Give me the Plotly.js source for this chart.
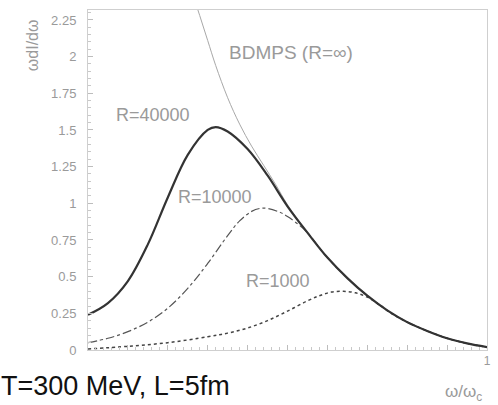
<!DOCTYPE html>
<html>
<head>
<meta charset="utf-8">
<script src="https://cdn.plot.ly/plotly-3.0.1.min.js"></script>
<style>html,body{margin:0;padding:0;background:#fff;}#chart{width:498px;height:405px;}</style>
</head>
<body>
<div id="chart"></div>
<script>
// Data (x = omega/omega_c, y = omega dI/domega)
const r40000X = [0, 0.05, 0.10, 0.15, 0.20, 0.25, 0.30, 0.32, 0.35, 0.40, 0.45, 0.50, 0.55, 0.60, 0.65, 0.70, 0.75, 0.80, 0.85, 0.90, 0.95, 1.0];
const r40000Y = [0.24, 0.32, 0.47, 0.72, 1.04, 1.33, 1.50, 1.52, 1.49, 1.37, 1.19, 0.98, 0.80, 0.63, 0.49, 0.37, 0.27, 0.19, 0.13, 0.08, 0.045, 0.02];

const r10000X = [0, 0.05, 0.10, 0.15, 0.20, 0.25, 0.30, 0.35, 0.38, 0.41, 0.43, 0.45, 0.48, 0.50, 0.53, 0.55, 0.60, 0.65, 0.70, 0.75, 0.80, 0.85, 0.90, 0.95, 1.0];
const r10000Y = [0.05, 0.08, 0.125, 0.19, 0.285, 0.42, 0.59, 0.78, 0.88, 0.945, 0.965, 0.965, 0.94, 0.91, 0.85, 0.80, 0.63, 0.49, 0.37, 0.27, 0.19, 0.13, 0.08, 0.045, 0.02];

const r1000X = [0, 0.10, 0.20, 0.30, 0.35, 0.40, 0.45, 0.50, 0.55, 0.58, 0.61, 0.64, 0.67, 0.70, 0.73, 0.76, 0.80, 0.85, 0.90, 0.95, 1.0];
const r1000Y = [0.007, 0.025, 0.05, 0.09, 0.115, 0.15, 0.20, 0.265, 0.335, 0.37, 0.395, 0.40, 0.39, 0.36, 0.31, 0.25, 0.19, 0.13, 0.08, 0.045, 0.02];

const bdmpsX = [0.24, 0.26, 0.28, 0.30, 0.32, 0.35, 0.38, 0.41, 0.44, 0.47, 0.50, 0.55, 0.60, 0.65, 0.70, 0.75, 0.80, 0.85, 0.90, 0.95, 1.0];
const bdmpsY = [2.65, 2.45, 2.28, 2.11, 1.94, 1.72, 1.54, 1.39, 1.26, 1.13, 0.99, 0.80, 0.63, 0.49, 0.37, 0.27, 0.19, 0.13, 0.08, 0.045, 0.02];

const yTickVals = [0, 0.25, 0.5, 0.75, 1, 1.25, 1.5, 1.75, 2, 2.25];
const yTickText = ["0", "0.25", "0.5", "0.75", "1", "1.25", "1.5", "1.75", "2", "2.25"];
const xTickVals = [0, 0.1, 0.2, 0.3, 0.4, 0.5, 0.6, 0.7, 0.8, 0.9, 1];
const xTickText = ["", "", "", "", "", "", "", "", "", "", "1"];

const fam = "Liberation Sans, Arial, sans-serif";
const grey = "#9a9a9a";

const traces = [
  {x: bdmpsX, y: bdmpsY, mode: "lines", line: {color: "#a8a8a8", width: 1, shape: "spline", smoothing: 1}, hoverinfo: "skip"},
  {x: r1000X, y: r1000Y, mode: "lines", line: {color: "#444", width: 1.5, dash: "dot", shape: "spline", smoothing: 1}, hoverinfo: "skip"},
  {x: r10000X, y: r10000Y, mode: "lines", line: {color: "#555", width: 1.2, dash: "dashdot", shape: "spline", smoothing: 1}, hoverinfo: "skip"},
  {x: r40000X, y: r40000Y, mode: "lines", line: {color: "#333", width: 2.2, shape: "spline", smoothing: 1}, hoverinfo: "skip"}
];

function label(x, y, text, size, color, extra) {
  return Object.assign({xref: "paper", yref: "paper", x: x, y: y, text: text, showarrow: false,
    xanchor: "center", yanchor: "middle", font: {family: fam, color: color, size: size}}, extra || {});
}

const layout = {
  width: 498, height: 405,
  margin: {l: 88, r: 11, t: 10, b: 55, pad: 0},
  paper_bgcolor: "#fff", plot_bgcolor: "#fff",
  showlegend: false,
  xaxis: {
    range: [0, 1], showgrid: false, zeroline: false,
    showline: true, linecolor: "#cfcfcf", linewidth: 1, mirror: true,
    ticks: "inside", ticklen: 5, tickcolor: "#bdbdbd",
    tickvals: xTickVals, ticktext: xTickText,
    tickfont: {family: fam, color: grey, size: 12},
    minor: {ticks: "inside", ticklen: 3, dtick: 0.02, tickcolor: "#c8c8c8"}
  },
  yaxis: {
    range: [0, 2.318], showgrid: false, zeroline: false,
    showline: true, linecolor: "#cfcfcf", linewidth: 1, mirror: true,
    ticks: "inside", ticklen: 5, tickcolor: "#bdbdbd",
    tickvals: yTickVals, ticktext: yTickText,
    tickfont: {family: fam, color: grey, size: 13},
    ticklabelstandoff: 8,
    minor: {ticks: "inside", ticklen: 3, dtick: 0.05, tickcolor: "#c8c8c8"}
  },
  annotations: [
    label(-0.140, 0.897, "ωdI/dω", 16, grey, {textangle: -90}),
    label(0.509, 0.876, "BDMPS (R=∞)", 19, grey),
    label(0.163, 0.691, "R=40000", 18, grey),
    label(0.318, 0.450, "R=10000", 18, grey),
    label(0.476, 0.203, "R=1000", 18, grey),
    label(0.942, -0.126, "ω/ω<sub>c</sub>", 17, grey),
    label(-0.2206, -0.106, "T=300 MeV, L=5fm", 27, "#111", {xanchor: "left", borderpad: 0})
  ]
};

Plotly.newPlot("chart", traces, layout, {displayModeBar: false, staticPlot: true});
</script>
</body>
</html>
